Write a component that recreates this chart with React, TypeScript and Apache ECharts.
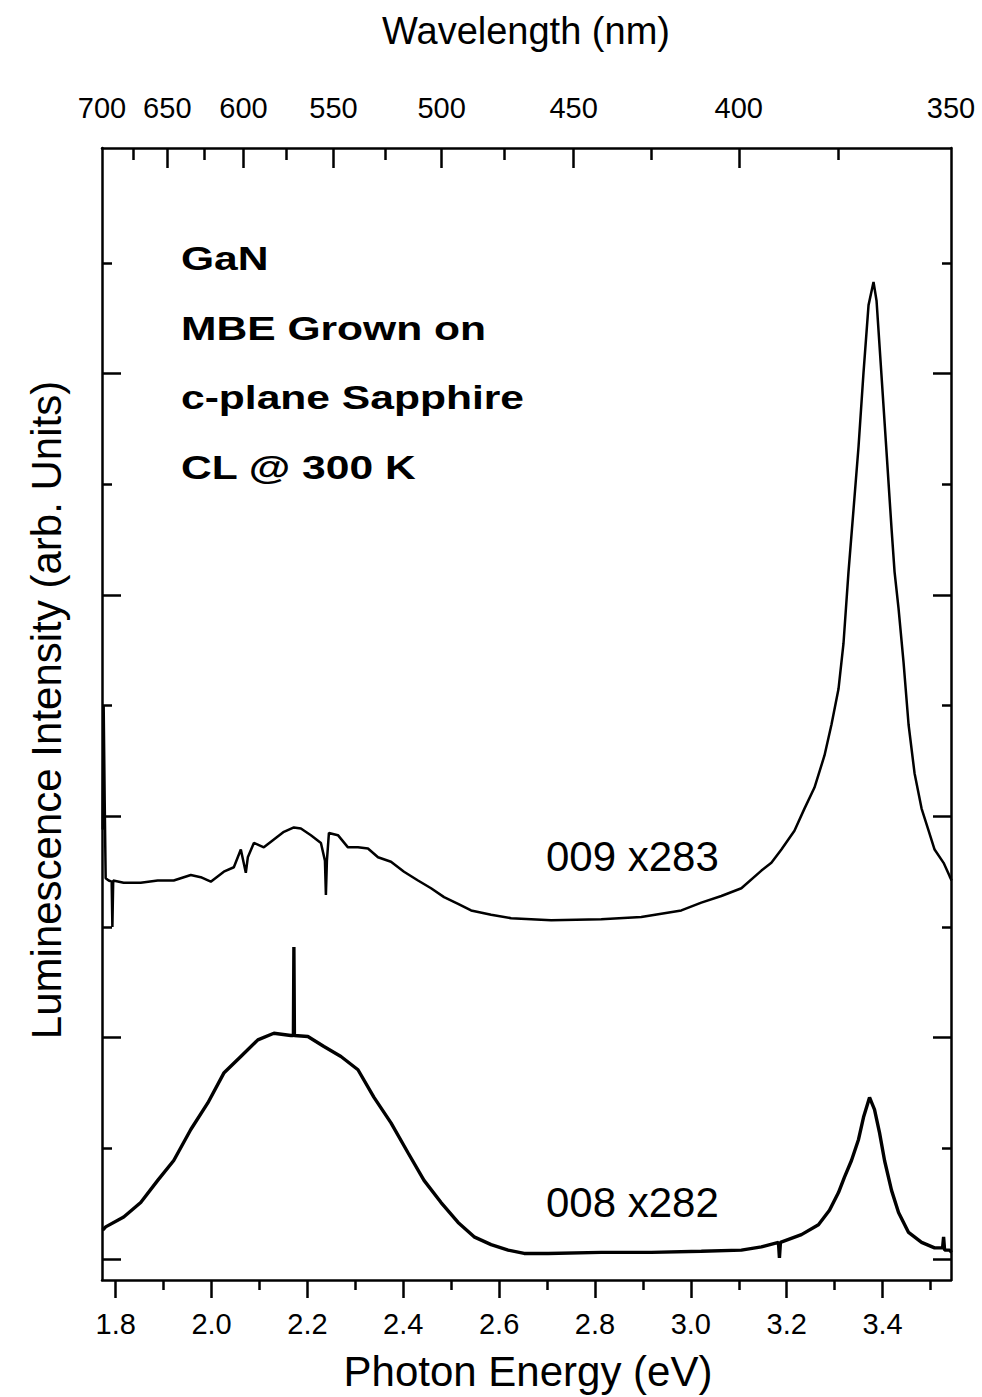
import React, { useEffect, useRef } from "react";
import * as echarts from "echarts";

const FONT = "'Liberation Sans', Arial, Helvetica, sans-serif";
const HC = 1240;
const E_MIN = HC / 700;
const E_MAX = HC / 350;
const Y_MIN = -0.19;
const Y_MAX = 10.04;

// Bottom axis (photon energy, eV)
const energyMajorTicks = [1.8, 2.0, 2.2, 2.4, 2.6, 2.8, 3.0, 3.2, 3.4];
const energyMinorTicks = [1.9, 2.1, 2.3, 2.5, 2.7, 2.9, 3.1, 3.3, 3.5];
// Top axis (wavelength, nm)
const wavelengthLabels = [700, 650, 600, 550, 500, 450, 400, 350];
const wavelengthMajorTicks = [650, 600, 550, 500, 450, 400];
const wavelengthMinorTicks = [675, 625, 575, 525, 475, 425, 375];
// Y axis ticks (arb. units)
const yMajorTicks = [0, 2, 4, 6, 8];
const yMinorTicks = [1, 3, 5, 7, 9];

// Sample 009 (x283)
const s009Energy = [1.7728, 1.7749, 1.777, 1.7791, 1.7854, 1.7916, 1.7931, 1.7948, 1.8167, 1.8522, 1.8877, 1.9211, 1.9567, 1.9775, 1.9984, 2.0256, 2.0465, 2.0611, 2.0715, 2.0757, 2.0883, 2.1091, 2.13, 2.1509, 2.1718, 2.1864, 2.2073, 2.2282, 2.2366, 2.2386, 2.2407, 2.2449, 2.2637, 2.2846, 2.3055, 2.3264, 2.3473, 2.3744, 2.4016, 2.4308, 2.458, 2.4851, 2.5144, 2.5415, 2.5833, 2.6251, 2.6668, 2.7086, 2.8131, 2.8966, 2.9802, 3.0219, 3.0637, 3.1055, 3.1473, 3.1681, 3.189, 3.2162, 3.2371, 3.258, 3.2789, 3.2935, 3.3081, 3.3185, 3.329, 3.3394, 3.3499, 3.3603, 3.3708, 3.3812, 3.3875, 3.3979, 3.4084, 3.4188, 3.4251, 3.4334, 3.4439, 3.4543, 3.4668, 3.4815, 3.4961, 3.5086, 3.5274, 3.5399, 3.5441];
const s009Intensity = [3.88, 5.0, 4.15, 3.44, 3.42, 3.41, 3.0, 3.42, 3.4, 3.4, 3.42, 3.42, 3.47, 3.45, 3.41, 3.5, 3.54, 3.7, 3.49, 3.63, 3.76, 3.72, 3.79, 3.86, 3.9, 3.89, 3.83, 3.76, 3.6, 3.29, 3.6, 3.85, 3.83, 3.72, 3.72, 3.71, 3.63, 3.59, 3.5, 3.42, 3.35, 3.27, 3.21, 3.15, 3.11, 3.08, 3.07, 3.06, 3.07, 3.09, 3.15, 3.22, 3.28, 3.35, 3.51, 3.58, 3.7, 3.87, 4.07, 4.26, 4.55, 4.83, 5.15, 5.56, 6.21, 6.77, 7.34, 8.01, 8.62, 8.83, 8.66, 7.98, 7.29, 6.6, 6.21, 5.88, 5.39, 4.83, 4.39, 4.07, 3.87, 3.7, 3.58, 3.46, 3.42];

// Sample 008 (x282)
const s008Energy = [1.7728, 1.7791, 1.8167, 1.8522, 1.8877, 1.9211, 1.9567, 1.9922, 2.0256, 2.0611, 2.0966, 2.13, 2.1655, 2.1708, 2.1718, 2.1729, 2.201, 2.2345, 2.27, 2.3055, 2.3389, 2.3744, 2.4099, 2.4433, 2.4789, 2.5144, 2.5478, 2.5833, 2.6188, 2.6522, 2.7023, 2.8131, 2.9175, 3.0219, 3.1055, 3.1473, 3.1828, 3.1849, 3.187, 3.2308, 3.2663, 3.2893, 3.3081, 3.3206, 3.3352, 3.3499, 3.3603, 3.3729, 3.3833, 3.3938, 3.4042, 3.4188, 3.4334, 3.4543, 3.4815, 3.5086, 3.5253, 3.5274, 3.5295, 3.5399, 3.5441];
const s008Intensity = [0.26, 0.29, 0.38, 0.51, 0.71, 0.89, 1.17, 1.41, 1.68, 1.83, 1.98, 2.04, 2.02, 2.02, 2.82, 2.02, 2.01, 1.92, 1.83, 1.71, 1.46, 1.23, 0.96, 0.71, 0.51, 0.33, 0.2, 0.13, 0.08, 0.05, 0.05, 0.06, 0.06, 0.07, 0.08, 0.11, 0.15, 0.01, 0.15, 0.22, 0.31, 0.44, 0.6, 0.74, 0.89, 1.08, 1.28, 1.46, 1.35, 1.14, 0.89, 0.62, 0.42, 0.24, 0.15, 0.1, 0.1, 0.2, 0.08, 0.08, 0.06];

const annotationLines = ["GaN", "MBE Grown on", "c-plane Sapphire", "CL @ 300 K"];
const seriesLabels = ["009 x283", "008 x282"];

const BLACK = "#000";

function zip(xs: number[], ys: number[]) {
  return xs.map((x, i) => [x, ys[i]]);
}

function xAxisDef(position: string, ticks: number[], len: number, inside: boolean, showLine: boolean, labels?: number[], fmt?: (v: number) => string, labelMargin?: number) {
  return {
    type: "value",
    position,
    min: E_MIN,
    max: E_MAX,
    splitLine: { show: false },
    axisLine: { show: showLine, onZero: false, lineStyle: { color: BLACK, width: 2.5 } },
    axisTick: { show: true, inside, length: len, customValues: ticks, lineStyle: { color: BLACK, width: 2.5 } },
    axisLabel: labels
      ? {
          show: true,
          customValues: labels,
          formatter: fmt,
          showMinLabel: true,
          showMaxLabel: true,
          color: BLACK,
          fontFamily: FONT,
          fontSize: 29,
          margin: labelMargin,
        }
      : { show: false },
  };
}

function yAxisDef(position: string, ticks: number[], len: number, showLine: boolean) {
  return {
    type: "value",
    position,
    min: Y_MIN,
    max: Y_MAX,
    splitLine: { show: false },
    axisLine: { show: showLine, onZero: false, lineStyle: { color: BLACK, width: 2.5 } },
    axisTick: { show: true, inside: true, length: len, customValues: ticks, lineStyle: { color: BLACK, width: 2.5 } },
    axisLabel: { show: false },
  };
}

const annotationY = [259, 329, 398, 468];

export default function App() {
  const ref = useRef<HTMLDivElement>(null);
  useEffect(() => {
    const chart = echarts.init(ref.current!, null, { renderer: "svg" });
    const option: any = {
      animation: false,
      backgroundColor: "#fff",
      grid: { left: 102, top: 148, width: 849, height: 1132, containLabel: false, outerBoundsMode: "none" },
      xAxis: [
        xAxisDef("bottom", energyMajorTicks, 18, false, true, energyMajorTicks, (v: number) => v.toFixed(1), 29),
        xAxisDef("bottom", energyMinorTicks, 10, false, false),
        xAxisDef(
          "top",
          wavelengthMajorTicks.map((w) => HC / w),
          20,
          true,
          true,
          wavelengthLabels.map((w) => HC / w),
          (v: number) => String(Math.round(HC / v)),
          26
        ),
        xAxisDef("top", wavelengthMinorTicks.map((w) => HC / w), 12, true, false),
      ],
      yAxis: [
        yAxisDef("left", yMajorTicks, 19, true),
        yAxisDef("left", yMinorTicks, 10, false),
        yAxisDef("right", yMajorTicks, 18, true),
        yAxisDef("right", yMinorTicks, 9, false),
      ],
      series: [
        {
          type: "line",
          name: "009 x283",
          xAxisIndex: 0,
          yAxisIndex: 0,
          data: zip(s009Energy, s009Intensity),
          showSymbol: false,
          symbol: "none",
          lineStyle: { color: BLACK, width: 2.5 },
          clip: true,
        },
        {
          type: "line",
          name: "008 x282",
          xAxisIndex: 0,
          yAxisIndex: 0,
          data: zip(s008Energy, s008Intensity),
          showSymbol: false,
          symbol: "none",
          lineStyle: { color: BLACK, width: 3.4 },
          clip: true,
        },
      ],
      graphic: [
        ...annotationLines.map((t, i) => ({
          type: "text",
          x: 181,
          y: annotationY[i],
          scaleX: 1.29,
          style: {
            text: t,
            fill: BLACK,
            font: `bold 33px ${FONT}`,
            textAlign: "left",
            textVerticalAlign: "middle",
          },
        })),
        {
          type: "text",
          x: 546,
          y: 856,
          style: { text: seriesLabels[0], fill: BLACK, font: `42px ${FONT}`, textAlign: "left", textVerticalAlign: "middle" },
        },
        {
          type: "text",
          x: 546,
          y: 1202,
          style: { text: seriesLabels[1], fill: BLACK, font: `42px ${FONT}`, textAlign: "left", textVerticalAlign: "middle" },
        },
        {
          type: "text",
          x: 528,
          y: 1371,
          style: { text: "Photon Energy (eV)", fill: BLACK, font: `42px ${FONT}`, textAlign: "center", textVerticalAlign: "middle" },
        },
        {
          type: "text",
          x: 526,
          y: 31,
          style: { text: "Wavelength (nm)", fill: BLACK, font: `38px ${FONT}`, textAlign: "center", textVerticalAlign: "middle" },
        },
        {
          type: "text",
          x: 46,
          y: 710,
          rotation: Math.PI / 2,
          style: {
            text: "Luminescence Intensity (arb. Units)",
            fill: BLACK,
            font: `42px ${FONT}`,
            textAlign: "center",
            textVerticalAlign: "middle",
          },
        },
      ],
    };
    chart.setOption(option);
    return () => chart.dispose();
  }, []);
  return (
    <div
      ref={ref}
      style={{ position: "fixed", left: 0, top: 0, width: 982, height: 1397, background: "#fff" }}
    />
  );
}
